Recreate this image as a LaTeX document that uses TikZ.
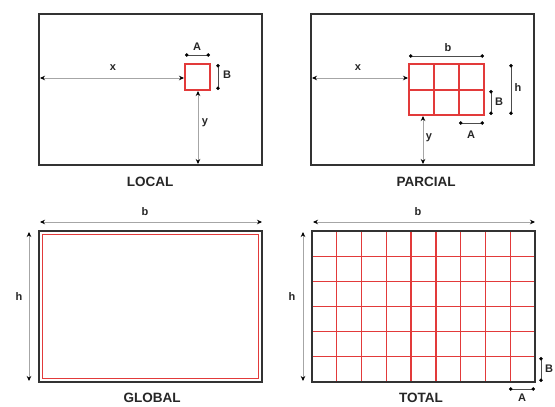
\documentclass[tikz,border=0pt]{standalone}
\usepackage{fontspec}
\setmainfont{Liberation Sans}
\usetikzlibrary{arrows.meta}
\definecolor{redl}{HTML}{E23A3A}
\definecolor{framec}{HTML}{333333}
\begin{document}
\begin{tikzpicture}[x=1pt,y=-1pt,
  frame/.style={draw=framec, line width=1.8pt},
  redline/.style={draw=redl, line width=1.3pt},
  dimarrow/.style={draw=black!35, line width=0.7pt, {Stealth[black,length=5pt,width=4.5pt]}-{Stealth[black,length=5pt,width=4.5pt]}},
  dimbar/.style={draw=black!70, line width=0.7pt, {Circle[black,length=3.5pt]}-{Circle[black,length=3.5pt]}},
  lbl/.style={font=\bfseries\fontsize{11}{11}\selectfont, text=black!85, inner sep=0pt},
  title/.style={font=\bfseries\fontsize{13.5}{13.5}\selectfont, text=black!85, inner sep=0pt}]
\useasboundingbox (0,0) rectangle (555,407);
\fill[white] (0,0) rectangle (555,407);

% ---------- LOCAL ----------
\draw[frame] (39,14) rectangle (262,165);
\draw[redline] (185,64) rectangle (210,90);
\coordinate (Lleft) at (40,78);
\coordinate (Lsq) at (184,78);
\coordinate (Lsqb) at (198,91);
\coordinate (Lbot) at (198,164);
\draw[dimarrow] (Lleft) -- (Lsq);
\draw[dimarrow] (Lsqb) -- (Lbot);
\coordinate (LA1) at (185,55);
\coordinate (LA2) at (210,55);
\draw[dimbar] (LA1) -- (LA2);
\coordinate (LB1) at (218,64);
\coordinate (LB2) at (218,90);
\draw[dimbar] (LB1) -- (LB2);
\node[lbl] (Lx) at (113,68) {x};
\node[lbl] (LA) at (197,47) {A};
\node[lbl] (LB) at (227,75) {B};
\node[lbl] (Ly) at (205,123) {y};
\node[title] (Ltitle) at (150,182) {LOCAL};

% ---------- PARCIAL ----------
\draw[frame] (311,14) rectangle (534,165);
\draw[redline] (409,64) rectangle (484,115);
\draw[redline] (409,90) -- (484,90);
\draw[redline] (434,64) -- (434,115);
\draw[redline] (459,64) -- (459,115);
\coordinate (Pleft) at (312,78);
\coordinate (Psq) at (408,78);
\coordinate (Psqb) at (423,116);
\coordinate (Pbot) at (423,164);
\draw[dimarrow] (Pleft) -- (Psq);
\draw[dimarrow] (Psqb) -- (Pbot);
\coordinate (Pb1) at (409,56);
\coordinate (Pb2) at (484,56);
\draw[dimbar] (Pb1) -- (Pb2);
\coordinate (Ph1) at (511,64);
\coordinate (Ph2) at (511,115);
\draw[dimbar] (Ph1) -- (Ph2);
\coordinate (PB1) at (491,90);
\coordinate (PB2) at (491,115);
\draw[dimbar] (PB1) -- (PB2);
\coordinate (PA1) at (459,123);
\coordinate (PA2) at (484,123);
\draw[dimbar] (PA1) -- (PA2);
\node[lbl] (Pb) at (448,48) {b};
\node[lbl] (Px) at (358,68) {x};
\node[lbl] (Ph) at (518,88) {h};
\node[lbl] (PB) at (499,102) {B};
\node[lbl] (PA) at (471,135) {A};
\node[lbl] (Py) at (429,138) {y};
\node[title] (Ptitle) at (426,182) {PARCIAL};

% ---------- GLOBAL ----------
\draw[frame] (39,231) rectangle (262,382);
\draw[redl, line width=0.9pt] (42.5,234.5) rectangle (258.5,378.5);
\coordinate (Gb1) at (40,222);
\coordinate (Gb2) at (262,222);
\draw[dimarrow] (Gb1) -- (Gb2);
\coordinate (Gh1) at (29,232);
\coordinate (Gh2) at (29,381);
\draw[dimarrow] (Gh1) -- (Gh2);
\node[lbl] (Gb) at (145,212) {b};
\node[lbl] (Gh) at (19,297) {h};
\node[title] (Gtitle) at (152,398) {GLOBAL};

% ---------- TOTAL ----------
\foreach \i in {1,...,8} {
  \draw[redline] ({312+\i*223/9},231) -- ({312+\i*223/9},382);
}
\foreach \j in {1,...,5} {
  \draw[redline] (312,{231+\j*151/6}) -- (535,{231+\j*151/6});
}
\draw[frame] (312,231) rectangle (535,382);
\coordinate (Tb1) at (313,222);
\coordinate (Tb2) at (535,222);
\draw[dimarrow] (Tb1) -- (Tb2);
\coordinate (Th1) at (303,232);
\coordinate (Th2) at (303,381);
\draw[dimarrow] (Th1) -- (Th2);
\coordinate (TB1) at (541,357);
\coordinate (TB2) at (541,382);
\draw[dimbar] (TB1) -- (TB2);
\coordinate (TA1) at (509,389);
\coordinate (TA2) at (535,389);
\draw[dimbar] (TA1) -- (TA2);
\node[lbl] (Tb) at (418,212) {b};
\node[lbl] (Th) at (292,297) {h};
\node[lbl] (TB) at (549,369) {B};
\node[lbl] (TA) at (522,398) {A};
\node[title] (Ttitle) at (421,398) {TOTAL};
\end{tikzpicture}
\end{document}
